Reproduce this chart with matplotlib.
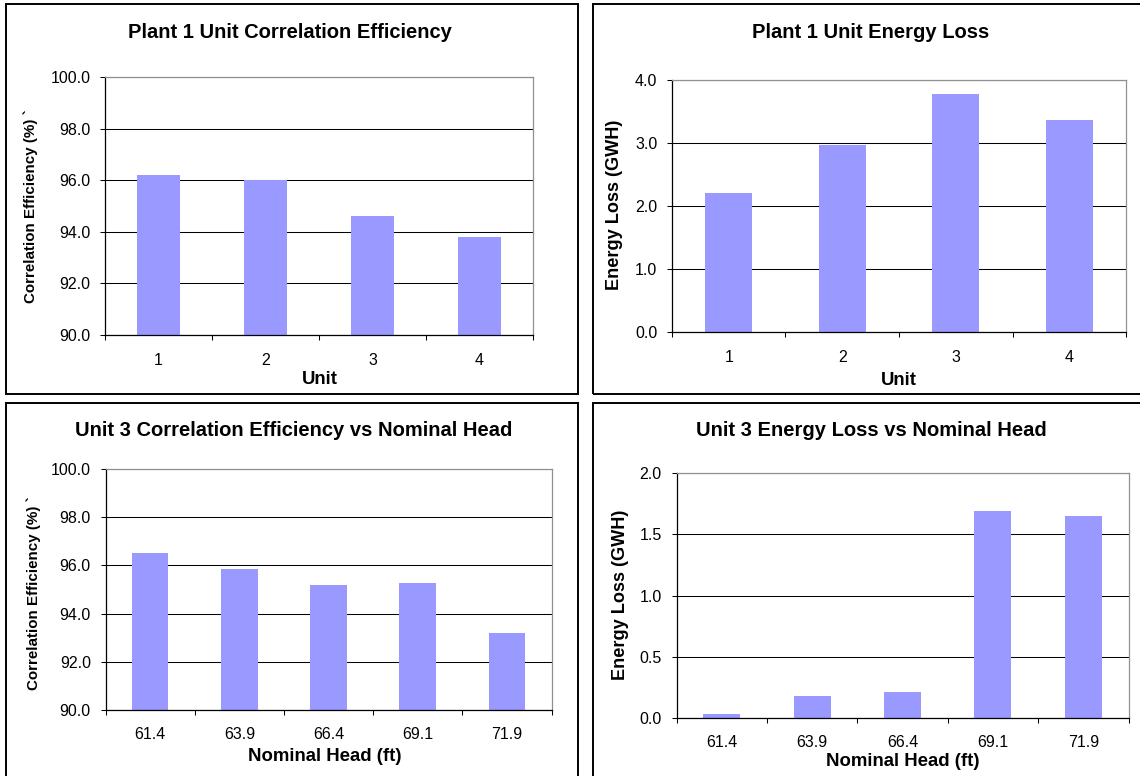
import matplotlib
matplotlib.use("Agg")
import numpy as np
import matplotlib.pyplot as plt
from matplotlib.patches import Rectangle
from matplotlib.ticker import FixedLocator, FormatStrFormatter, NullFormatter

plt.rcParams['font.family'] = ['Liberation Sans', 'DejaVu Sans']

W, H = 1140, 776  # canvas in pixels

# plant 1, per unit
units = ['1', '2', '3', '4']
unit_eff = [96.2, 96.0, 94.6, 93.8]
unit_loss = [2.21, 2.97, 3.77, 3.37]

# unit 3, per nominal head
heads = ['61.4', '63.9', '66.4', '69.1', '71.9']
head_eff = [96.5, 95.85, 95.2, 95.27, 93.2]
head_loss = [0.03, 0.18, 0.21, 1.69, 1.65]

BAR = '#9999ff'

fig = plt.figure(figsize=(W / 100, H / 100), dpi=100)


def fx(x):
    return x / W


def fy(y):
    return 1 - y / H


def frame(l, t, r, b):
    # outer border of each chart object
    fig.patches.append(Rectangle((fx(l), fy(b)), (r - l) / W, (b - t) / H,
                                 transform=fig.transFigure, fill=False,
                                 ec='black', lw=1.4, clip_on=False))


def panel(area, cats, vals, ylim, ystep, xpad,
          title, title_xy, ylab, ylab_xy, ylab_fs, xlab, xlab_xy):
    l, t, r, b = area
    ax = fig.add_axes([fx(l), fy(b), (r - l) / W, (b - t) / H])
    x = np.arange(len(cats))
    ax.bar(x, vals, width=0.41, color=BAR, zorder=2)
    ax.set_xlim(-0.5, len(cats) - 0.5)
    ax.set_ylim(*ylim)

    ax.yaxis.set_major_locator(FixedLocator(np.arange(ylim[0], ylim[1] + ystep / 2, ystep)))
    ax.yaxis.set_major_formatter(FormatStrFormatter('%.1f'))
    ax.yaxis.grid(True, color='black', lw=0.75, zorder=1)
    ax.set_axisbelow(True)
    ax.tick_params(axis='y', direction='out', length=3.6, width=0.75,
                   pad=7, labelsize=11.5, colors='black')

    # tick marks between categories, labels at the centres
    ax.xaxis.set_major_locator(FixedLocator(np.arange(len(cats) + 1) - 0.5))
    ax.xaxis.set_major_formatter(NullFormatter())
    ax.xaxis.set_minor_locator(FixedLocator(x))
    ax.set_xticklabels(cats, minor=True)
    ax.tick_params(axis='x', which='major', direction='out', length=3.6, width=0.75)
    ax.tick_params(axis='x', which='minor', length=0, pad=xpad, labelsize=11.5)

    for side in ('left', 'bottom'):
        ax.spines[side].set_color('black')
        ax.spines[side].set_linewidth(0.9)
    for side in ('top', 'right'):
        ax.spines[side].set_color('#909090')
        ax.spines[side].set_linewidth(0.9)

    fig.text(fx(title_xy[0]), fy(title_xy[1]), title, ha='center', va='baseline',
             fontsize=14.5, fontweight='bold')
    fig.text(fx(ylab_xy[0]), fy(ylab_xy[1]), ylab, ha='center', va='center',
             rotation=90, fontsize=ylab_fs, fontweight='bold')
    fig.text(fx(xlab_xy[0]), fy(xlab_xy[1]), xlab, ha='center', va='baseline',
             fontsize=13.4, fontweight='bold')
    return ax


frame(6, 4, 578, 394)
frame(593, 4, 1160, 394)
frame(6, 403, 578, 800)
frame(593, 403, 1160, 800)

panel((105, 77, 533, 335), units, unit_eff, (90, 100), 2.0, 13.2,
      'Plant 1 Unit Correlation Efficiency', (290, 37.5),
      'Correlation Efficiency (%) `', (31, 206), 10.9,
      'Unit', (320, 384))

panel((672, 80, 1126, 332), units, unit_loss, (0, 4), 1.0, 13.2,
      'Plant 1 Unit Energy Loss', (871, 37.5),
      'Energy Loss (GWH)', (614.5, 204.5), 13.1,
      'Unit', (899, 385))

panel((105.5, 469, 551.6, 710), heads, head_eff, (90, 100), 2.0, 12.5,
      'Unit 3 Correlation Efficiency vs Nominal Head', (294, 435.5),
      'Correlation Efficiency (%) `', (33.5, 593), 10.9,
      'Nominal Head (ft)', (325, 761))

panel((676.5, 473, 1128.5, 718), heads, head_loss, (0, 2), 0.5, 12.5,
      'Unit 3 Energy Loss vs Nominal Head', (871, 435.5),
      'Energy Loss (GWH)', (620.5, 594.5), 13.1,
      'Nominal Head (ft)', (903, 766))

fig.savefig('out.png', dpi=100)
